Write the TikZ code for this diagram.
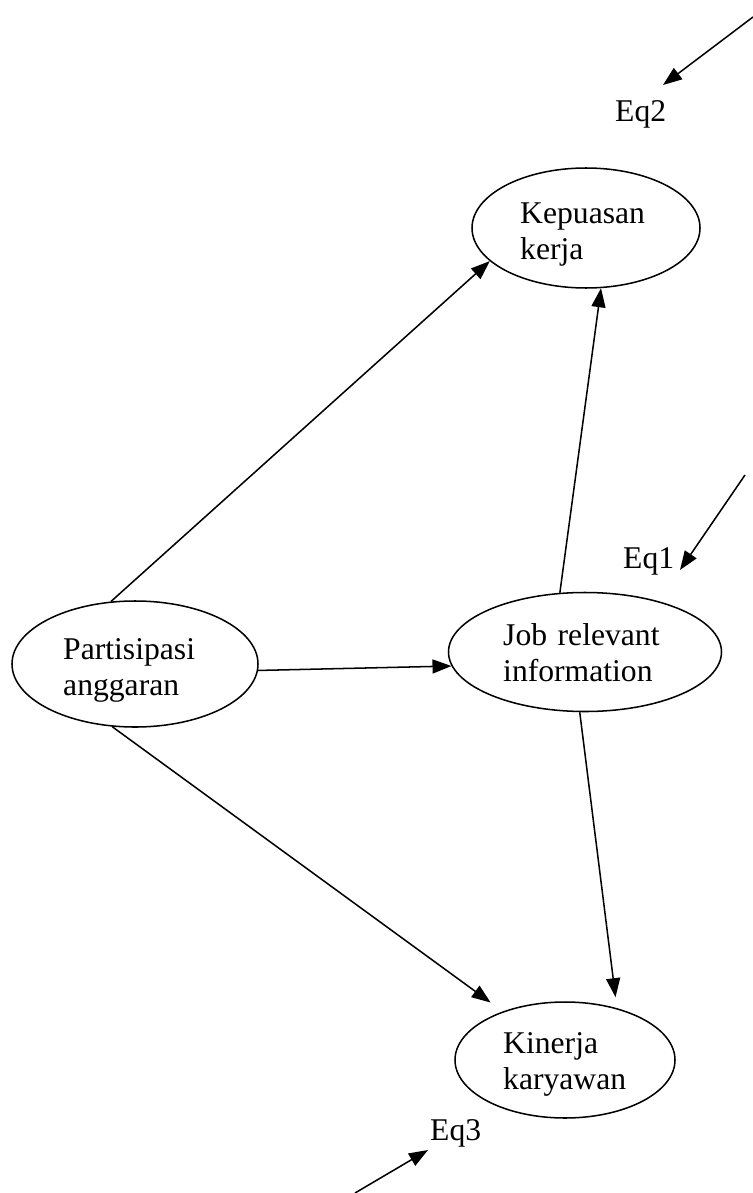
\documentclass[tikz,border=0pt]{standalone}
\usepackage{fontspec}
\setmainfont{Liberation Serif}
\usetikzlibrary{arrows.meta,shapes.geometric}

\begin{document}
\begin{tikzpicture}[x=0.3mm, y=-0.3mm,
varnode/.style={ellipse, draw=black, line width=1.3pt, inner sep=0pt},
textnode/.style={anchor=base west, inner sep=0pt, text width=60mm, align=left, font=\fontsize{27}{31.5}\selectfont},
arrline/.style={black, line width=1.3pt, -{Triangle[length=5.7mm, width=4.2mm]}},]

	\useasboundingbox (0, 0) rectangle (753, 1193);

	\node (kp) [varnode, minimum width=68.4mm, minimum height=36mm] at (586, 228) {};
	\node (jr) [varnode, minimum width=81.9mm, minimum height=35.7mm] at (585, 652) {};
	\node (pa) [varnode, minimum width=73.8mm, minimum height=37.8mm] at (135, 664) {};
	\node (ki) [varnode, minimum width=66mm, minimum height=34.8mm] at (565, 1060) {};

	\node (kptext) [textnode] at (520, 223) {Kepuasan\\kerja};
	\node (jrtext) [textnode] at (503, 645) {Job relevant\\information};
	\node (patext) [textnode] at (63, 659) {Partisipasi\\anggaran};
	\node (kitext) [textnode] at (503, 1053) {Kinerja\\karyawan};

	\node (eq2) [textnode] at (615, 122) {Eq2};
	\node (eq1) [textnode] at (623, 568) {Eq1};
	\node (eq3) [textnode] at (430, 1140) {Eq3};

	\draw[arrline] (pa.111) -- (kp.199);
	\draw[arrline] (jr.113) -- (kp.284);
	\draw[arrline] (pa.-3) -- (jr.186);
	\draw[arrline, shorten >=4.5mm] (pa.250) -- (ki.142);
	\draw[arrline, shorten >=3.3mm] (jr.265) -- (ki.45);

	\coordinate (e2from) at (753, 17);
	\coordinate (e2to) at (663, 85);
	\coordinate (e1from) at (745, 475);
	\coordinate (e1to) at (680, 570);
	\coordinate (e3from) at (355, 1193);
	\coordinate (e3to) at (428, 1150);

	\draw[arrline] (e2from) -- (e2to);
	\draw[arrline] (e1from) -- (e1to);
	\draw[arrline] (e3from) -- (e3to);

\end{tikzpicture}
\end{document}
